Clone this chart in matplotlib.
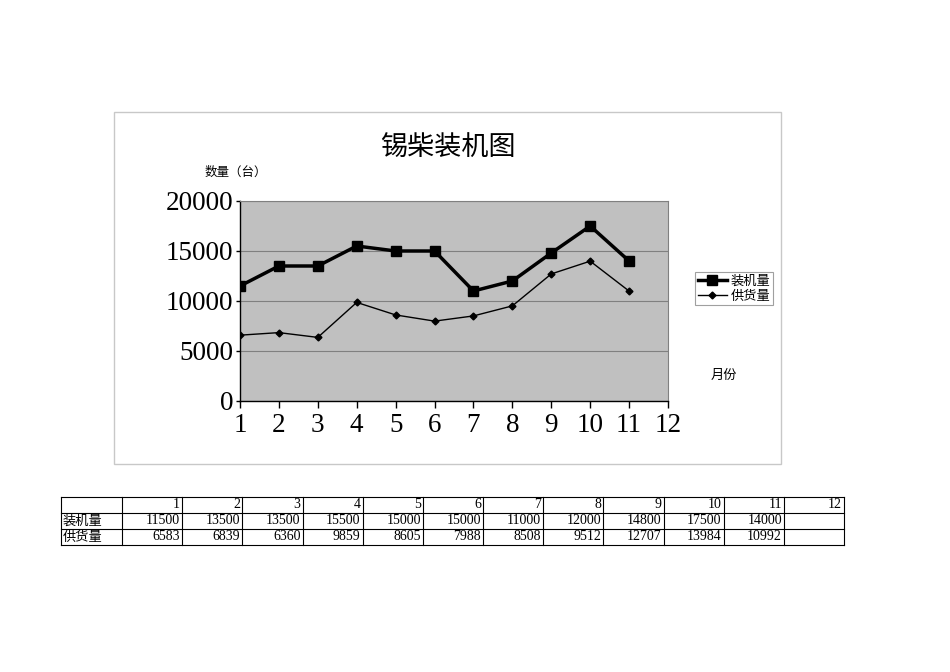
import matplotlib
matplotlib.use("Agg")
import matplotlib.pyplot as plt
from matplotlib.patches import Rectangle

months = [1, 2, 3, 4, 5, 6, 7, 8, 9, 10, 11]
month_ticks = [1, 2, 3, 4, 5, 6, 7, 8, 9, 10, 11, 12]
install = [11500, 13500, 13500, 15500, 15000, 15000, 11000, 12000, 14800, 17500, 14000]
supply = [6583, 6839, 6360, 9859, 8605, 7988, 8508, 9512, 12707, 13984, 10992]
series_names = ["装机量", "供货量"]
title = "锡柴装机图"
ylabel = "数量（台）"
xlabel = "月份"
yticks = [0, 5000, 10000, 15000, 20000]

CJK = ["Noto Sans CJK SC", "DejaVu Sans"]
SERIF = ["Liberation Serif", "DejaVu Serif"]

W, H = 950, 672
fig = plt.figure(figsize=(W / 100, H / 100), dpi=100)
fig.patch.set_facecolor("white")

# overlay axes in pixel coordinates for frame and table
bg = fig.add_axes([0, 0, 1, 1])
bg.set_xlim(0, W)
bg.set_ylim(H, 0)
bg.axis("off")
bg.add_patch(Rectangle((114, 112), 667, 352, fill=False, edgecolor="#c8c8c8", lw=1))

# main chart
ax = fig.add_axes([240 / W, (H - 401) / H, 428 / W, 200 / H])
ax.set_facecolor("#c0c0c0")
ax.plot(months, install, color="black", lw=2.5, marker="s", markersize=7, label=series_names[0], zorder=3)
ax.plot(months, supply, color="black", lw=1, marker="D", markersize=3.5, label=series_names[1], zorder=3)
ax.set_xlim(1, 12)
ax.set_ylim(0, 20000)
ax.set_xticks(month_ticks)
ax.set_yticks(yticks)
ax.set_xticklabels([str(m) for m in month_ticks], fontfamily=SERIF, fontsize=19.5)
ax.set_yticklabels([str(v) for v in yticks], fontfamily=SERIF, fontsize=19.5)
ax.tick_params(axis="x", direction="out", length=5, width=1, pad=4)
ax.tick_params(axis="y", direction="out", length=3, width=1, pad=2)
ax.yaxis.grid(True, color="#808080", lw=0.8)
ax.set_axisbelow(True)
for s in ["top", "right"]:
    ax.spines[s].set_color("#808080")
    ax.spines[s].set_linewidth(0.8)
for s in ["left", "bottom"]:
    ax.spines[s].set_color("black")
    ax.spines[s].set_linewidth(1)

fig.text(448 / W, 1 - 147 / H, title, fontfamily=CJK, fontsize=19.5, ha="center", va="center")
fig.text(205 / W, 1 - 172 / H, ylabel, fontfamily=CJK, fontsize=9, ha="left", va="center")
fig.text(711 / W, 1 - 375 / H, xlabel, fontfamily=CJK, fontsize=9.5, ha="left", va="center")

leg = fig.legend(loc="upper left", bbox_to_anchor=(695 / W, 1 - 272 / H), prop={"family": CJK, "size": 9.5},
                 fancybox=False, edgecolor="#a0a0a0", framealpha=1, handlelength=2.2, handletextpad=0.3,
                 borderpad=0.2, labelspacing=0.15, borderaxespad=0)
leg.get_frame().set_linewidth(0.8)

# data table
col_edges = [61, 122] + [122 + 60.17 * (i + 1) for i in range(12)]
row_edges = [497, 513, 529, 545]
for y in row_edges:
    bg.plot([col_edges[0], col_edges[-1]], [y, y], color="black", lw=0.8)
for x in col_edges:
    bg.plot([x, x], [row_edges[0], row_edges[-1]], color="black", lw=0.8)

def cy(r):
    return (row_edges[r] + row_edges[r + 1]) / 2

for i, m in enumerate(month_ticks):
    bg.text(col_edges[i + 2] - 2, cy(0), str(m), fontfamily=SERIF, fontsize=10, ha="right", va="center")
for r, (name, vals) in enumerate([(series_names[0], install), (series_names[1], supply)], start=1):
    bg.text(col_edges[0] + 2, cy(r), name, fontfamily=CJK, fontsize=9.5, ha="left", va="center")
    for i, v in enumerate(vals):
        bg.text(col_edges[i + 2] - 2, cy(r), str(v), fontfamily=SERIF, fontsize=10, ha="right", va="center")

fig.savefig("out.png", dpi=100, facecolor="white")
